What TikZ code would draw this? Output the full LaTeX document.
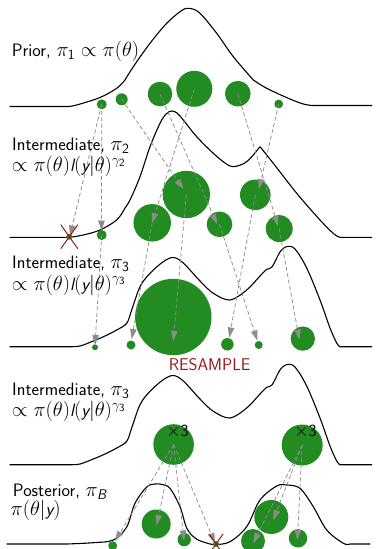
\RequirePackage{fix-cm}
\documentclass[tikz,border=0pt]{standalone}
\usepackage{amsmath}
\usetikzlibrary{arrows.meta,calc}
\DeclareMathSizes{18}{20.5}{14}{11}
\DeclareMathSizes{17}{18.5}{13}{10}
\definecolor{pgreen}{RGB}{34,139,34}
\definecolor{killred}{RGB}{150,25,25}
\definecolor{arrgray}{RGB}{140,140,140}
\begin{document}
\begin{tikzpicture}[x=1pt,y=-1pt,
  density/.style={line width=1.1pt, line join=round, line cap=round},
  particle/.style={circle, fill=pgreen, inner sep=0pt, outer sep=0pt, minimum size=#1},
  move/.style={arrgray, dash pattern=on 4pt off 2.5pt, line width=0.75pt, -{Triangle[length=10pt,width=6.5pt]}},
  lbl/.style={anchor=base west, inner sep=0pt, font=\sffamily\fontsize{18}{21.7}\selectfont},
  kill/.style={killred, line width=1pt}
]
\useasboundingbox (0,0) rectangle (380,549);

% ---------- densities ----------
% prior
\draw[density] (10,106.5) -- (68.3,106.5)
  plot[smooth,tension=0.55] coordinates {(68.3,106.5) (76.7,105) (100,97.5) (116.7,88.3) (125,80)}
  plot[smooth,tension=0.55] coordinates {(125,80) (133.3,66.7) (150,43.3) (166.7,23.3) (181.7,10.5) (190,8.3) (200,13.3) (216.7,33.3) (233.3,56.7) (253.3,80)}
  plot[smooth,tension=0.55] coordinates {(253.3,80) (266.7,88.3) (290,99) (303.3,104) (312,105.5)} -- (371.7,105.5);
% intermediate 2
\draw[density] (10,237.3) -- (70,237.3)
  plot[smooth,tension=0.55] coordinates {(70,237.3) (83.3,235) (100,230) (116.7,220) (125,208)}
  plot[smooth,tension=0.55] coordinates {(125,208) (130,200) (140,176.7) (150,146.7) (160,123.3) (166,114) (171.7,111) (177,113) (183.3,120) (196.7,136.7) (213.3,153.3) (225,163) (233.3,166.7) (246.7,161.7) (260,146.7)}
  plot[smooth,tension=0.55] coordinates {(260,146.7) (273.3,163.3) (296.7,193.3) (320,220) (334,234) (340,237.3)} -- (371.7,237.3);
% intermediate 3
\draw[density] (10,346.7) -- (70,346.7)
  plot[smooth,tension=0.55] coordinates {(70,346.7) (80,346) (93.3,341) (105,336) (116.7,330) (126.7,323.3) (131.7,310) (140,286.7) (150,273.3) (163.3,261.7) (173.3,257.5) (183.3,263) (200,281) (213.3,293.3) (230,300) (246.7,290) (260,276) (266.7,269.3) (272,267) (280,252) (286.7,246.5) (295,249) (306.7,268) (320,300) (330,328) (336.7,343) (340,346.7)} -- (371.7,346.7);
% intermediate 3 (resampled)
\draw[density] (10,464.7) -- (70,464.7)
  plot[smooth,tension=0.55] coordinates {(70,464.7) (80,464) (93.3,459) (105,454) (116.7,448) (126.7,441.3) (131.7,428) (140,404.7) (150,391.3) (163.3,379.7) (173.3,375.5) (183.3,381) (200,399) (213.3,411.3) (230,418) (246.7,408) (260,394) (266.7,387.3) (272,385) (280,370) (286.7,364.5) (295,367) (306.7,386) (320,418) (330,446) (336.7,461) (340,464.7)} -- (371.7,464.7);
% posterior
\draw[density] (7,544) -- (66.7,544)
  plot[smooth,tension=0.55] coordinates {(66.7,544) (93.3,542.7) (113.3,540) (126.7,527) (135,503.3) (146.7,487) (155,484) (162,484.5) (170,488.3) (180,506.7) (186.7,528) (195,538) (205,542.5) (215,544.5) (230,541.7) (246.7,526.7) (260,500) (276.7,486) (286.7,485) (300,488.3) (313.3,506.7) (326.7,530) (343.3,543.3) (350,544)} -- (370,544);

% ---------- particles ----------
\node[particle=10pt] (a1) at (101.7,104.3) {};
\node[particle=12pt] (a2) at (121.7,99.3) {};
\node[particle=24.6pt] (a3) at (160,94) {};
\node[particle=36pt] (a4) at (194.3,88.8) {};
\node[particle=25.6pt] (a5) at (237.8,93.7) {};
\node[particle=8.8pt] (a6) at (278.7,104) {};

\node[particle=6pt] (b1) at (69.3,236.7) {};
\node[particle=10pt] (b2) at (101.7,235) {};
\node[particle=37.5pt] (b3) at (152.2,222.8) {};
\node[particle=47.4pt] (b4) at (186.3,194.5) {};
\node[particle=25.6pt] (b5) at (219.5,224.3) {};
\node[particle=30.6pt] (b6) at (255.3,194.8) {};
\node[particle=27pt] (b7) at (279.2,228.6) {};

\node[particle=6pt] (c1) at (95,347.3) {};
\node[particle=9pt] (c2) at (131,345) {};
\node[particle=76.4pt] (c3) at (173.3,317) {};
\node[particle=12.5pt] (c4) at (227.4,344.3) {};
\node[particle=8pt] (c5) at (258.7,345) {};
\node[particle=24.3pt] (c6) at (302.8,338.6) {};

\node[particle=40.6pt] (d1) at (173.6,444.5) {};
\node[particle=41pt] (d2) at (302.2,445) {};

\node[particle=9pt] (e1) at (112.7,545.7) {};
\node[particle=29pt] (e2) at (156.2,524) {};
\node[particle=13.4pt] (e3) at (184.2,539.6) {};
\node[particle=6pt] (ex) at (216,544) {};
\node[particle=24pt] (e4) at (253,541) {};
\node[particle=34pt] (e5) at (271.3,517) {};
\node[particle=18.4pt] (e6) at (298,538.3) {};

% ---------- arrow tips ----------
\coordinate (tb1) at (70,235.5);
\coordinate (tb2) at (101.5,230.5);
\coordinate (tb4) at (183.3,189);
\coordinate (tb5) at (217,224);
\coordinate (tb3) at (152,223);
\coordinate (tb7) at (278,226);
\coordinate (tb6) at (259,189);

\coordinate (tc1) at (95,345);
\coordinate (tc2) at (131.7,339);
\coordinate (tc3) at (173.3,341);
\coordinate (tc5) at (257.3,340.5);
\coordinate (tc4) at (229.3,337.5);
\coordinate (tc6) at (299.3,339.5);

\coordinate (te1) at (115,541);
\coordinate (te2) at (156.7,525);
\coordinate (te3) at (184,540.5);
\coordinate (tex) at (215,543);
\coordinate (te4) at (253.3,543);
\coordinate (te5) at (273.3,520);
\coordinate (te6) at (297.3,540);

% ---------- moves ----------
\draw[move] (a1.center) -- (tb1);
\draw[move] (a1.center) -- (tb2);
\draw[move] (a2.center) -- (tb4);
\draw[move] (a3.center) -- (tb5);
\draw[move] (a4.center) -- (tb3);
\draw[move] (a5.center) -- (tb7);
\draw[move] (a6.center) -- (tb6);

\draw[move] (b2.center) -- (tc1);
\draw[move] (b3.center) -- (tc2);
\draw[move] (b4.center) -- (tc3);
\draw[move] (b5.center) -- (tc5);
\draw[move] (b6.center) -- (tc4);
\draw[move] (b7.center) -- (tc6);

\draw[move] (d1.center) -- (te1);
\draw[move] (d1.center) -- (te2);
\draw[move] (d1.center) -- (te3);
\draw[move] (d1.center) -- (tex);
\draw[move] (d2.center) -- (te4);
\draw[move] (d2.center) -- (te5);
\draw[move] (d2.center) -- (te6);

% ---------- killed particles ----------
\draw[kill] ($(b1)+(-8.5,-12)$) -- ($(b1)+(8.5,12)$);
\draw[kill] ($(b1)+(8.5,-12)$) -- ($(b1)+(-8.5,12)$);
\draw[kill] ($(ex)+(-7,-10)$) -- ($(ex)+(7,10)$);
\draw[kill] ($(ex)+(7,-10)$) -- ($(ex)+(-7,10)$);

% ---------- labels ----------
\node[lbl] (lab1) at (11.7,56.7) {Prior, $\pi_{\mathsf{1}} \propto \pi(\theta)$};
\node[lbl] (lab2a) at (12,150) {Intermediate, $\pi_{\mathsf{2}}$};
\node[lbl] (lab2b) at (11.7,171.7) {$\propto \pi(\theta)\text{\slshape l}(\text{\slshape y}|\theta)^{\gamma_{\mathsf{2}}}$};
\node[lbl] (lab3a) at (12,268.3) {Intermediate, $\pi_{\mathsf{3}}$};
\node[lbl] (lab3b) at (11.7,290) {$\propto \pi(\theta)\text{\slshape l}(\text{\slshape y}|\theta)^{\gamma_{\mathsf{3}}}$};
\node[lbl] (lab4a) at (12,395) {Intermediate, $\pi_{\mathsf{3}}$};
\node[lbl] (lab4b) at (11.7,416.7) {$\propto \pi(\theta)\text{\slshape l}(\text{\slshape y}|\theta)^{\gamma_{\mathsf{3}}}$};
\node[lbl] (lab5a) at (12.7,496.7) {Posterior, $\pi_{\text{\slshape B}}$};
\node[lbl] (lab5b) at (10.5,515) {$\pi(\theta|\text{\slshape y})$};

\node[anchor=base, inner sep=0pt, text=killred, font=\sffamily\fontsize{17}{20}\selectfont] (resample) at (209.7,370.7) {RESAMPLE};
\node[anchor=base, inner sep=0pt, font=\sffamily\fontsize{17}{20}\selectfont] (x3a) at (177.5,436) {$\times$3};
\node[anchor=base, inner sep=0pt, font=\sffamily\fontsize{17}{20}\selectfont] (x3b) at (305.5,436) {$\times$3};
\end{tikzpicture}
\end{document}
